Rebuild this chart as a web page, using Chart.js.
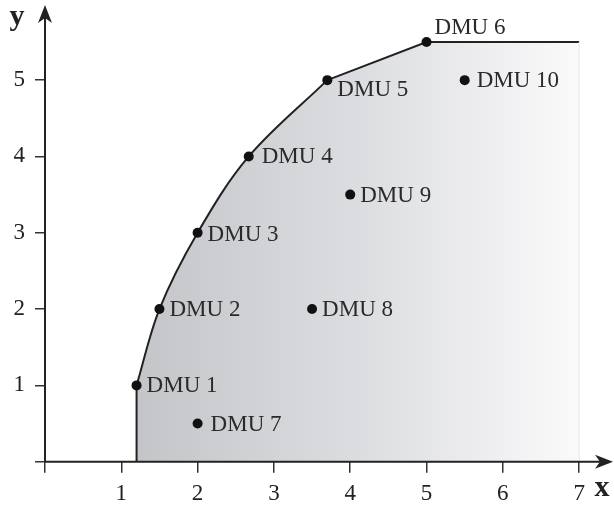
<!DOCTYPE html>
<html>
<head>
<meta charset="utf-8">
<script src="https://cdn.jsdelivr.net/npm/chart.js@4.4.0/dist/chart.umd.min.js"></script>
<style>
  html, body { margin: 0; padding: 0; background: #ffffff; }
  #wrap { width: 614px; height: 508px; }
</style>
</head>
<body>
<div id="wrap"><canvas id="c" width="614" height="508"></canvas></div>
<script>
// ---- data ----
const dmuNames = ['DMU 1','DMU 2','DMU 3','DMU 4','DMU 5','DMU 6','DMU 7','DMU 8','DMU 9','DMU 10'];
const dmuX = [1.2, 1.5, 2, 2.67, 3.7, 5, 2, 3.5, 4, 5.5];
const dmuY = [1, 2, 3, 4, 5, 5.5, 0.5, 2, 3.5, 5];
// efficient frontier pieces
const curveX = [1.2, 1.5, 2, 2.67, 3.7];
const curveY = [1, 2, 3, 4, 5];
const tailX = [3.7, 5, 7];
const tailY = [5, 5.5, 5.5];
const baseX = [1.2, 1.2];
const baseY = [0, 1];
const xTicks = [0, 1, 2, 3, 4, 5, 6, 7];
const yTicks = [0, 1, 2, 3, 4, 5];

// ---- styles ----
const FONT = "'Liberation Serif', 'DejaVu Serif', serif";
const INK = '#222222';
const labelOffsets = [[10,1],[10,1],[10,2],[13,1],[10,10],[8,-14],[13,1],[10,1],[10,1],[12,1]];

const pts = (xs, ys) => xs.map((x, i) => ({ x: x, y: ys[i] }));

function fillGradient(ctx) {
  const chart = ctx.chart;
  if (!chart.chartArea) return '#d8d8da';
  const xs = chart.scales.x;
  const g = chart.ctx.createLinearGradient(xs.getPixelForValue(1.2), 0, xs.getPixelForValue(7), 0);
  g.addColorStop(0, '#c4c5c8');
  g.addColorStop(0.5, '#dcdde0');
  g.addColorStop(1, '#fafafb');
  return g;
}

function noPad(s) {
  s.paddingTop = 0; s.paddingBottom = 0; s.paddingLeft = 0; s.paddingRight = 0;
}

const overlay = {
  id: 'overlay',
  afterDatasetsDraw(chart) {
    const c = chart.ctx, xs = chart.scales.x, ys = chart.scales.y;
    c.save();
    // faint right edge of shaded region
    c.strokeStyle = '#e6e6e8';
    c.lineWidth = 1;
    c.beginPath();
    c.moveTo(xs.getPixelForValue(7), ys.getPixelForValue(5.5));
    c.lineTo(xs.getPixelForValue(7), ys.getPixelForValue(0));
    c.stroke();
    // labels
    c.font = '23px ' + FONT;
    c.fillStyle = '#2a2a2a';
    c.textAlign = 'left';
    c.textBaseline = 'middle';
    dmuNames.forEach((n, i) => {
      const px = xs.getPixelForValue(dmuX[i]) + labelOffsets[i][0];
      const py = ys.getPixelForValue(dmuY[i]) + labelOffsets[i][1];
      c.fillText(n, px, py);
    });
    c.restore();
  },
  afterDraw(chart) {
    const c = chart.ctx, xs = chart.scales.x, ys = chart.scales.y;
    const ox = xs.getPixelForValue(0), oy = ys.getPixelForValue(0);
    c.save();
    c.strokeStyle = INK;
    c.fillStyle = INK;
    c.lineWidth = 2;
    // axis lines
    c.beginPath();
    c.moveTo(ox, oy); c.lineTo(604, oy);
    c.moveTo(ox, oy); c.lineTo(ox, 14);
    c.stroke();
    // x arrowhead
    c.beginPath();
    c.moveTo(613, oy);
    c.lineTo(595, oy - 7);
    c.lineTo(600, oy);
    c.lineTo(595, oy + 7);
    c.closePath();
    c.fill();
    // y arrowhead
    c.beginPath();
    c.moveTo(ox, 5);
    c.lineTo(ox - 7, 23);
    c.lineTo(ox, 18);
    c.lineTo(ox + 7, 23);
    c.closePath();
    c.fill();
    // axis titles
    c.font = 'bold 30px ' + FONT;
    c.textAlign = 'center';
    c.textBaseline = 'alphabetic';
    c.fillText('y', 17, 25);
    c.fillText('x', 602, 496);
    c.restore();
  }
};

const tickFont = { family: FONT, size: 23 };

new Chart(document.getElementById('c'), {
  type: 'line',
  data: {
    datasets: [
      { data: pts(dmuX, dmuY), showLine: false, pointRadius: 5, pointBackgroundColor: '#111', pointBorderColor: '#111', pointBorderWidth: 0, order: 1 },
      { data: pts(curveX, curveY), tension: 0.35, borderColor: INK, borderWidth: 2, pointRadius: 0, fill: false, order: 2 },
      { data: pts(tailX, tailY), tension: 0, borderColor: INK, borderWidth: 2, pointRadius: 0, fill: false, order: 2 },
      { data: pts(baseX, baseY), tension: 0, borderColor: INK, borderWidth: 2, pointRadius: 0, fill: false, order: 2 },
      { data: pts(curveX, curveY), tension: 0.35, borderWidth: 0, borderColor: 'rgba(0,0,0,0)', pointRadius: 0, fill: 'origin', backgroundColor: fillGradient, order: 5 },
      { data: pts(curveX.slice(3).concat(tailX.slice(1)), curveY.slice(3).concat(tailY.slice(1))), tension: 0, borderWidth: 0, borderColor: 'rgba(0,0,0,0)', pointRadius: 0, fill: 'origin', backgroundColor: fillGradient, order: 5 }
    ]
  },
  options: {
    responsive: false,
    animation: false,
    devicePixelRatio: 1,
    layout: { padding: 0, autoPadding: false },
    plugins: { legend: { display: false }, tooltip: { enabled: false } },
    scales: {
      x: {
        type: 'linear', min: 0, max: 7.457,
        afterBuildTicks: s => { s.ticks = xTicks.map(v => ({ value: v })); },
        afterFit: s => { s.height = 46.3; noPad(s); },
        ticks: { font: tickFont, color: INK, padding: 7, maxRotation: 0, autoSkip: false,
                 callback: v => (v === 0 ? '' : String(v)) },
        grid: { drawOnChartArea: false, drawTicks: true, tickLength: 11, color: '#333', lineWidth: 1.5 },
        border: { display: false }
      },
      y: {
        type: 'linear', min: 0, max: 6.05,
        afterBuildTicks: s => { s.ticks = yTicks.map(v => ({ value: v })); },
        afterFit: s => { s.width = 45; noPad(s); },
        ticks: { font: tickFont, color: INK, padding: 10, autoSkip: false,
                 callback: v => (v === 0 ? '' : String(v)) },
        grid: { drawOnChartArea: false, drawTicks: true, tickLength: 10, color: '#333', lineWidth: 1.5 },
        border: { display: false }
      }
    }
  },
  plugins: [overlay]
});
</script>
</body>
</html>
